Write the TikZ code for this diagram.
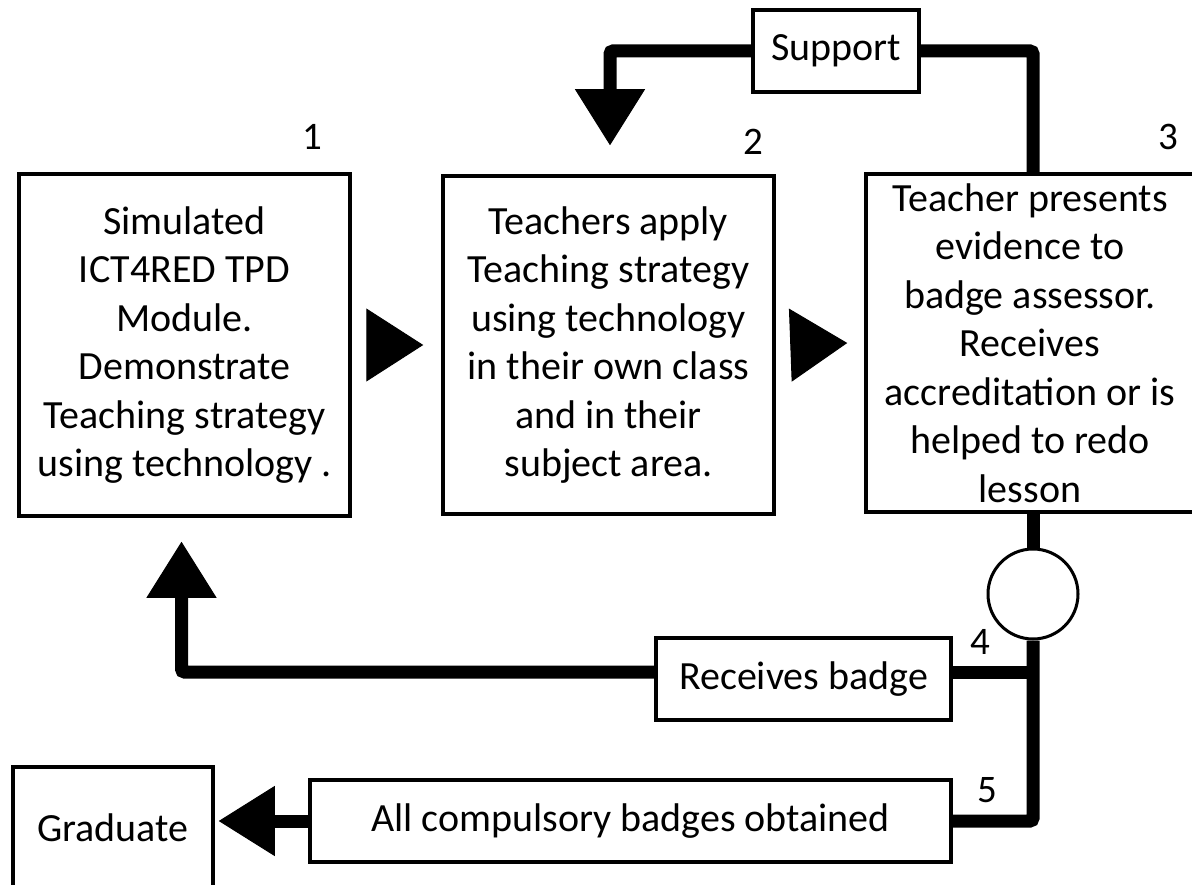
\documentclass[tikz,border=0pt]{standalone}
\usepackage{fontspec}
\setmainfont{Carlito}
\usetikzlibrary{arrows.meta,calc}
\begin{document}
\begin{tikzpicture}[x=1pt,y=-1pt,
  box/.style={draw, line width=3.5pt, inner sep=0pt, align=center, font=\fontsize{40}{48.5}\selectfont},
  lbl/.style={font=\fontsize{39}{44}\selectfont, inner sep=0pt},
  conn/.style={line width=13pt, rounded corners=3pt},
  bigtip/.style={-{Triangle[length=56pt,width=70pt,line width=1pt]}},
  soletip/.style={-{Triangle[length=57pt,width=73pt,line width=1pt]}, line width=1pt},
]
\useasboundingbox (0,0) rectangle (1192,885);
% boxes
\node[box, minimum width=331pt, minimum height=342pt] (b1) at (184.5,345)
  {Simulated\\ICT4RED TPD\\Module.\\Demonstrate\\Teaching strategy\\using technology .};
\node[box, minimum width=331pt, minimum height=338pt] (b2) at (608.5,345)
  {Teachers apply\\Teaching strategy\\using technology\\in their own class\\and in their\\subject area.};
\node[box, minimum width=328pt, minimum height=338pt] (b3) at (1030,343)
  {Teacher presents\\evidence to\\badge assessor.\\Receives\\accreditation or is\\helped to redo\\lesson};
\node[box, minimum width=166pt, minimum height=82pt] (sup) at (836,51) {Support};
\node[box, minimum width=295pt, minimum height=82pt] (rb) at (803.5,679) {Receives badge};
\node[box, minimum width=641pt, minimum height=82pt] (ab) at (630.5,821) {All compulsory badges obtained};
\node[box, minimum width=200pt, minimum height=122pt] (gr) at (113,828) {Graduate};
\node[draw, circle, line width=3pt, minimum size=90pt, inner sep=0pt] (cc) at (1033,594) {};
\coordinate (rbE) at ([yshift=7pt]rb.east);
\coordinate (rbW) at ([yshift=7pt]rb.west);
% numbers
\node[lbl] (n1) at (312,137) {1};
\node[lbl] (n2) at (753,142) {2};
\node[lbl] (n3) at (1168,137) {3};
\node[lbl] (n4) at (980,642) {4};
\node[lbl] (n5) at (987,790) {5};
% forward arrows (tips only)
\draw[soletip] ($(b1.east)+(18,0)$) -- ($(b2.west)+(-18,0)$);
\draw[soletip] ($(b2.east)+(18,0)$) -- ($(b3.west)+(-17,0)$);
% support loop
\draw[conn] (b3.north -| cc.north) |- (sup.east);
\draw[conn, bigtip] (sup.west) -| ($(b2.north)+(1.5,-29)$);
% trunk
\draw[conn] (b3.south -| cc.north) -- (cc.north);
\draw[conn] (cc.south) |- (ab.east);
\draw[conn] (cc.south |- rbE) -- (rbE);
\draw[conn, bigtip] (rbW) -| ($(b1.south)+(-3,24)$);
\draw[conn, bigtip] (ab.west) -- ($(ab.west -| gr.east)+(4,0)$);
\end{tikzpicture}
\end{document}
